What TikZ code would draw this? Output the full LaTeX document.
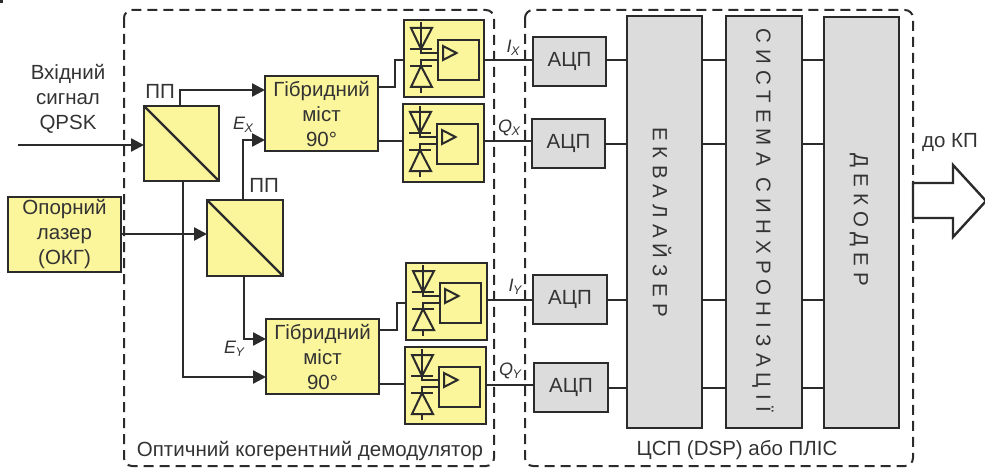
\documentclass[tikz,border=0pt]{standalone}
\usepackage{fontspec}
\setmainfont{Liberation Sans}
\newfontfamily\spaced[LetterSpace=30]{Liberation Sans}
\usetikzlibrary{arrows.meta}
\definecolor{yel}{HTML}{FBF59B}
\definecolor{gr}{HTML}{DCDCDC}
\definecolor{ink}{HTML}{2B2B2B}
\definecolor{txt}{HTML}{333333}
\tikzset{
  base/.style={draw=ink,line width=2.4pt,inner sep=0pt,outer sep=0pt,text=txt,align=center,font=\fontsize{20.5}{25}\selectfont},
  ybox/.style={base,fill=yel},
  gbox/.style={base,fill=gr},
  wire/.style={draw=ink,line width=2.4pt},
  arr/.style={wire,-{Triangle[length=13pt,width=13pt]}},
  thin wire/.style={draw=ink,line width=2pt},
  frame/.style={draw=ink,line width=2pt,dash pattern=on 10pt off 6pt,rounded corners=8pt},
  lbl/.style={text=txt,inner sep=0pt,font=\fontsize{20.5}{25}\selectfont},
  vert/.style={text=txt,inner sep=0pt,rotate=-90,font=\fontsize{20.5}{25}\selectfont\spaced},
}
\newcommand\bx[7]{\node[#6,anchor=north west,minimum width={(#4-#2)*1pt},minimum height={(#5-#3)*1pt}] (#1) at (#2,#3) {#7};}
\newcommand\pdint[3]{%
  \begin{scope}[shift={(#2,#3)}]
    \draw[thin wire] (34,20) rectangle (75,60);
    \draw[thin wire] (39,26) -- (39,40) -- (52.5,33) -- cycle;
    \draw[thin wire] (17,2) -- (17,29);
    \draw[thin wire] (7,8) -- (28,8) -- (17,29) -- cycle;
    \draw[thin wire] (6,29) -- (28,29);
    \draw[thin wire] (17,29) -- (17,33) -- (34,33);
    \draw[thin wire] (17,46) -- (17,40) -- (34,40);
    \draw[thin wire] (6,46) -- (28,46);
    \draw[thin wire] (7,67) -- (28,67) -- (17,46) -- cycle;
    \draw[thin wire] (17,67) -- (17,73);
  \end{scope}}
\newcommand\lab[2]{\textit{\fontsize{18}{18}\selectfont #1\kern-0.5pt\raisebox{-3pt}{\fontsize{12.5}{12.5}\selectfont #2}}}
\begin{document}
\begin{tikzpicture}[x=1pt,y=-1pt]
\useasboundingbox (0,0) rectangle (985,468);
\fill[ink] (0,0) rectangle (2.5,3);
% frames
\draw[frame] (124,10) rectangle (494,466);
\draw[frame] (525,10) rectangle (913,466);
% blocks
\bx{p1}{144}{106}{219}{181}{ybox}{}
\bx{p2}{207}{200}{283}{276}{ybox}{}
\draw[wire] (p1.north west) -- (p1.south east);
\draw[wire] (p2.north west) -- (p2.south east);
\bx{laser}{8}{197}{121}{272}{ybox}{Опорний\\лазер\\(ОКГ)}
\bx{h1}{265}{76}{378}{151}{ybox}{Гібридний\\міст\\90°}
\bx{h2}{266}{319}{379}{394}{ybox}{Гібридний\\міст\\90°}
\bx{d1}{404}{20}{484}{97}{ybox}{}
\bx{d2}{403}{104}{484}{182}{ybox}{}
\bx{d3}{406}{263}{487}{340}{ybox}{}
\bx{d4}{405}{347}{486}{424}{ybox}{}
\pdint{a}{404}{20}
\pdint{b}{403}{104}
\pdint{c}{406}{263}
\pdint{e}{405}{347}
\bx{a1}{533}{37}{606}{86}{gbox}{АЦП}
\bx{a2}{532}{119}{605}{168}{gbox}{АЦП}
\bx{a3}{533}{275}{607}{324}{gbox}{АЦП}
\bx{a4}{534}{363}{608}{412}{gbox}{АЦП}
\bx{eq}{627}{16}{702}{428}{gbox}{}
\bx{sy}{726}{16}{802}{428}{gbox}{}
\bx{de}{824}{17}{899}{428}{gbox}{}
\node[vert] (teq) at (662,222) {ЕКВАЛАЙЗЕР};
\node[vert] (tsy) at (763,220) {СИСТЕМА СИНХРОНІЗАЦІЇ};
\node[vert] (tde) at (859,220) {ДЕКОДЕР};
% optical connectors
\coordinate (in) at (18,145);
\draw[arr] (in) -- (in -| p1.west);
\draw[arr] (laser.east |- 0,234) -- (p2.west |- 0,234);
\draw[arr] (p1.north -| 180,0) |- (h1.west |- 0,90);
\draw[arr] (p2.north -| 243,0) |- (h1.west |- 0,140);
\draw[arr] (p1.south -| 183,0) |- (h2.west |- 0,377);
\draw[arr] (p2.south -| 244,0) |- (h2.west |- 0,339);
\draw[wire] (h1.east |- 0,87) -| (395,60) -- (d1.west |- 0,60);
\draw[wire] (h1.east |- 0,141) -- (d2.west |- 0,141);
\draw[wire] (h2.east |- 0,330) -| (397,303) -- (d3.west |- 0,303);
\draw[wire] (h2.east |- 0,384) -- (d4.west |- 0,384);
% electrical connectors
\draw[wire] (d1.east |- 0,60) -- (a1.west |- 0,60);
\draw[wire] (d2.east |- 0,141) -- (a2.west |- 0,141);
\draw[wire] (d3.east |- 0,300) -- (a3.west |- 0,300);
\draw[wire] (d4.east |- 0,385) -- (a4.west |- 0,385);
\draw[wire] (a1.east |- 0,60) -- (eq.west |- 0,60);
\draw[wire] (a2.east |- 0,144) -- (eq.west |- 0,144);
\draw[wire] (a3.east |- 0,300) -- (eq.west |- 0,300);
\draw[wire] (a4.east |- 0,388) -- (eq.west |- 0,388);
\foreach \yy in {60,144,300,388}{
  \draw[wire] (eq.east |- 0,\yy) -- (sy.west |- 0,\yy);
  \draw[wire] (sy.east |- 0,\yy) -- (de.west |- 0,\yy);
}
% output arrow
\draw[wire,fill=white] (913,183) -- (953,183) -- (953,165) -- (986,201) -- (953,237) -- (953,218) -- (913,218) -- cycle;
% labels
\node[lbl,align=center] (tin) at (68,99) {Вхідний\\сигнал\\QPSK};
\node[lbl] (pp1) at (160,91) {ПП};
\node[lbl] (pp2) at (264,185) {ПП};
\node[lbl] (ex) at (243,125) {\lab{E}{X}};
\node[lbl] (ey) at (234,349) {\lab{E}{Y}};
\node[lbl] (ix) at (513,48) {\lab{I}{X}};
\node[lbl] (qx) at (509,128) {\lab{Q}{X}};
\node[lbl] (iy) at (515,287) {\lab{I}{Y}};
\node[lbl] (qy) at (510,371) {\lab{Q}{Y}};
\node[lbl] (kp) at (950,142) {до КП};
\node[lbl] (t1) at (310,451) {Оптичний когерентний демодулятор};
\node[lbl] (t2) at (737,450) {ЦСП (DSP) або ПЛІС};
\end{tikzpicture}
\end{document}
